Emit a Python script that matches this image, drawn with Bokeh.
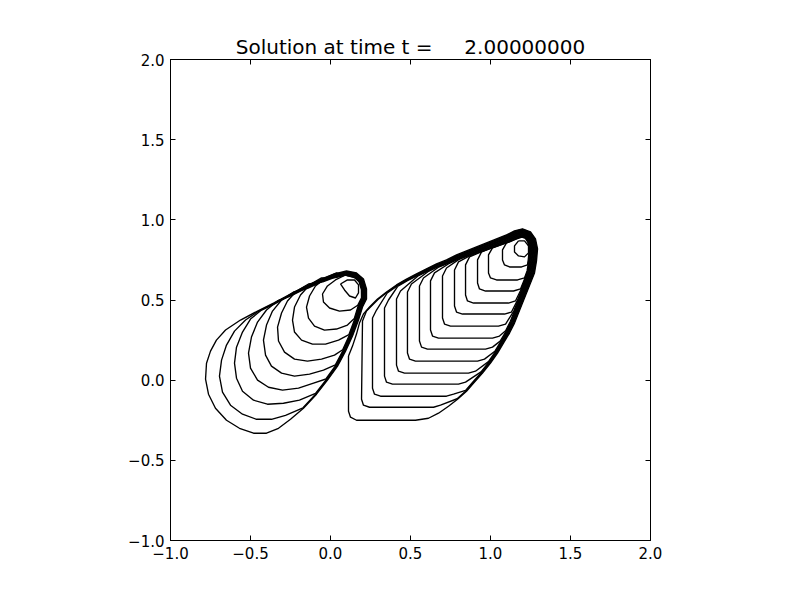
import numpy as np
from bokeh.plotting import figure
from bokeh.models import LinearAxis, Range1d, FixedTicker
from bokeh.embed import file_html
from bokeh.resources import INLINE

# ---------------- texts / ticks ----------------
title_text = "Solution at time t = \u00a0\u00a0\u00a0\u00a02.00000000"
tick_values = [-1.0, -0.5, 0.0, 0.5, 1.0, 1.5, 2.0]
tick_labels = ["\u22121.0", "\u22120.5", "0.0", "0.5", "1.0", "1.5", "2.0"]

# ---------------- left lobe: outer contour (clockwise) ----------------
left_rim_x = [-0.781, -0.775, -0.75, -0.713, -0.656, -0.5625, -0.456, -0.356, -0.25, -0.15,
              -0.056, 0.025, 0.1, 0.1625, 0.206, 0.225, 0.225, 0.2, 0.175, 0.1375,
              0.094, 0.044, -0.019, -0.0875, -0.169, -0.25, -0.325, -0.4, -0.481, -0.569,
              -0.65, -0.719, -0.7625]
left_rim_y = [0.006, 0.106, 0.181, 0.25, 0.3125, 0.375, 0.431, 0.481, 0.5375, 0.5875,
              0.631, 0.6625, 0.681, 0.669, 0.631, 0.569, 0.506, 0.456, 0.375, 0.275,
              0.181, 0.0875, 0.0, -0.0875, -0.175, -0.244, -0.3, -0.331, -0.331, -0.3,
              -0.25, -0.175, -0.0875]

# left lobe inner contours: own arc from the upper edge to the right band
L2_x = [-0.456, -0.531, -0.6, -0.65, -0.681, -0.694, -0.675, -0.625, -0.55, -0.4625, -0.369, -0.281, -0.169]
L2_y = [0.425, 0.375, 0.306, 0.219, 0.125, 0.025, -0.075, -0.156, -0.2125, -0.244, -0.244, -0.219, -0.175]
L3_x = [-0.356, -0.431, -0.5, -0.55, -0.5875, -0.6, -0.5875, -0.55, -0.481, -0.394, -0.294, -0.194, -0.0875]
L3_y = [0.481, 0.4375, 0.381, 0.3, 0.206, 0.106, 0.0125, -0.069, -0.125, -0.15, -0.144, -0.125, -0.0875]
L4_x = [-0.25, -0.331, -0.4, -0.456, -0.494, -0.5125, -0.5, -0.456, -0.3875, -0.3, -0.2, -0.106, -0.019]
L4_y = [0.5375, 0.494, 0.4375, 0.3625, 0.269, 0.169, 0.075, 0.0, -0.044, -0.0625, -0.05, -0.019, 0.0]
L5_x = [-0.15, -0.231, -0.306, -0.3625, -0.4, -0.419, -0.406, -0.369, -0.306, -0.225, -0.131, -0.044, 0.044]
L5_y = [0.5875, 0.55, 0.5, 0.431, 0.344, 0.25, 0.156, 0.0875, 0.044, 0.025, 0.0375, 0.0625, 0.0875]
L6_x = [-0.056, -0.1375, -0.2125, -0.269, -0.306, -0.331, -0.325, -0.2875, -0.225, -0.144, -0.056, 0.025, 0.094]
L6_y = [0.631, 0.6, 0.556, 0.494, 0.419, 0.331, 0.244, 0.175, 0.131, 0.119, 0.131, 0.156, 0.181]
L7_x = [0.025, -0.056, -0.131, -0.1875, -0.225, -0.2375, -0.225, -0.181, -0.1125, -0.031, 0.05, 0.1375]
L7_y = [0.6625, 0.6375, 0.594, 0.531, 0.456, 0.375, 0.3, 0.25, 0.225, 0.225, 0.25, 0.275]
L8_x = [0.1, 0.0375, -0.031, -0.094, -0.131, -0.15, -0.1375, -0.1, -0.0375, 0.0375, 0.106, 0.175]
L8_y = [0.681, 0.669, 0.6375, 0.5875, 0.525, 0.456, 0.3875, 0.3375, 0.3125, 0.319, 0.344, 0.375]
L9_x = [0.1625, 0.094, 0.031, -0.019, -0.05, -0.044, -0.006, 0.056, 0.125, 0.2]
L9_y = [0.669, 0.656, 0.625, 0.5875, 0.5375, 0.4875, 0.45, 0.431, 0.4375, 0.456]
# innermost closed loop at the tip of the left lobe
L10_x = [0.0625, 0.106, 0.15, 0.175, 0.175, 0.156, 0.119, 0.0875]
L10_y = [0.6, 0.625, 0.625, 0.594, 0.544, 0.5125, 0.525, 0.5625]

# ---------------- right lobe: outer contour (clockwise) ----------------
right_rim_x = [0.1125, 0.1375, 0.1625, 0.181, 0.206, 0.244, 0.294, 0.35, 0.4125, 0.475,
               0.5375, 0.6, 0.6625, 0.725, 0.7875, 0.85, 0.9125, 0.975, 1.0375, 1.1,
               1.15, 1.2, 1.25, 1.281, 1.294, 1.2875, 1.275, 1.25, 1.225, 1.2,
               1.175, 1.15, 1.119, 1.081, 1.044, 1.0, 0.95, 0.9, 0.85, 0.794,
               0.7375, 0.675, 0.6125, 0.531, 0.1625, 0.125, 0.1125]
right_rim_y = [0.15, 0.2125, 0.2875, 0.356, 0.4125, 0.456, 0.506, 0.55, 0.594, 0.631,
               0.6625, 0.694, 0.725, 0.75, 0.781, 0.806, 0.831, 0.856, 0.881, 0.906,
               0.931, 0.944, 0.925, 0.881, 0.819, 0.744, 0.669, 0.606, 0.544, 0.481,
               0.419, 0.356, 0.294, 0.231, 0.169, 0.106, 0.044, -0.0125, -0.069, -0.119,
               -0.1625, -0.206, -0.2375, -0.25, -0.25, -0.231, -0.194]

# right lobe inner contours: upper band -> vertical side -> bottom -> right band
R2_x = [0.294, 0.225, 0.2, 0.194, 0.206, 0.244, 0.644, 0.6875, 0.794]
R2_y = [0.506, 0.431, 0.369, -0.119, -0.156, -0.169, -0.169, -0.156, -0.119]
R3_x = [0.356, 0.2875, 0.2625, 0.2625, 0.275, 0.3125, 0.725, 0.769, 0.869]
R3_y = [0.556, 0.4375, 0.3875, -0.05, -0.0875, -0.1, -0.1, -0.0875, -0.05]
R4_x = [0.431, 0.3625, 0.3375, 0.3375, 0.35, 0.3875, 0.8, 0.844, 0.931]
R4_y = [0.606, 0.5, 0.45, 0.025, -0.0125, -0.025, -0.025, -0.0125, 0.025]
R5_x = [0.506, 0.4375, 0.4125, 0.4125, 0.425, 0.4625, 0.8625, 0.906, 0.9875]
R5_y = [0.65, 0.556, 0.506, 0.094, 0.056, 0.044, 0.044, 0.056, 0.094]
R6_x = [0.575, 0.506, 0.481, 0.481, 0.494, 0.531, 0.919, 0.9625, 1.044]
R6_y = [0.681, 0.6, 0.55, 0.169, 0.131, 0.119, 0.119, 0.131, 0.169]
R7_x = [0.65, 0.581, 0.556, 0.556, 0.569, 0.606, 0.969, 1.0125, 1.0875]
R7_y = [0.719, 0.6375, 0.5875, 0.244, 0.206, 0.194, 0.194, 0.206, 0.244]
R8_x = [0.719, 0.65, 0.625, 0.625, 0.6375, 0.675, 1.0125, 1.056, 1.125]
R8_y = [0.75, 0.669, 0.619, 0.3125, 0.275, 0.2625, 0.2625, 0.275, 0.3125]
R9_x = [0.794, 0.725, 0.7, 0.7, 0.7125, 0.75, 1.05, 1.094, 1.1625]
R9_y = [0.781, 0.7, 0.65, 0.3875, 0.35, 0.3375, 0.3375, 0.35, 0.3875]
R10_x = [0.869, 0.8, 0.775, 0.775, 0.7875, 0.825, 1.0875, 1.131, 1.194]
R10_y = [0.8125, 0.7375, 0.6875, 0.4625, 0.425, 0.4125, 0.4125, 0.425, 0.4625]
R11_x = [0.9375, 0.869, 0.844, 0.844, 0.856, 0.894, 1.1125, 1.156, 1.219]
R11_y = [0.844, 0.769, 0.719, 0.531, 0.494, 0.481, 0.481, 0.494, 0.531]
R12_x = [1.0125, 0.944, 0.919, 0.919, 0.931, 0.969, 1.144, 1.1875, 1.25]
R12_y = [0.869, 0.8, 0.75, 0.606, 0.569, 0.556, 0.556, 0.569, 0.606]
R13_x = [1.081, 1.0125, 0.9875, 0.9875, 1.0, 1.0375, 1.169, 1.2125, 1.275]
R13_y = [0.9, 0.825, 0.781, 0.669, 0.6375, 0.625, 0.625, 0.6375, 0.675]
R14_x = [1.156, 1.1, 1.075, 1.075, 1.0875, 1.119, 1.194, 1.231, 1.2875]
R14_y = [0.925, 0.856, 0.8125, 0.75, 0.719, 0.706, 0.706, 0.719, 0.756]
# innermost closed loop at the tip of the right lobe
R15_x = [1.175, 1.15, 1.15, 1.175, 1.2125, 1.2375, 1.2375, 1.2125]
R15_y = [0.869, 0.8375, 0.8, 0.775, 0.769, 0.794, 0.8375, 0.869]

BAND_STEP = 0.004  # spacing of nearly coincident contours along the shared edges


def offset_rim(rx, ry, d):
    x = np.asarray(rx, float)
    y = np.asarray(ry, float)
    tx = np.roll(x, -1) - np.roll(x, 1)
    ty = np.roll(y, -1) - np.roll(y, 1)
    ln = np.hypot(tx, ty)
    return x + d * ty / ln, y - d * tx / ln


def nearest(rx, ry, px, py):
    rx = np.asarray(rx)
    ry = np.asarray(ry)
    return int(np.argmin((rx - px) ** 2 + (ry - py) ** 2))


def inner_contour(rx, ry, ax, ay, k):
    ox, oy = offset_rim(rx, ry, k * BAND_STEP)
    i0 = nearest(rx, ry, ax[0], ay[0])
    i1 = nearest(rx, ry, ax[-1], ay[-1])
    xs = list(ox[i0:i1 + 1]) + list(ax[-2:0:-1]) + [ox[i0]]
    ys = list(oy[i0:i1 + 1]) + list(ay[-2:0:-1]) + [oy[i0]]
    return xs, ys


xs_all, ys_all = [], []
xs_all.append(left_rim_x + [left_rim_x[0]])
ys_all.append(left_rim_y + [left_rim_y[0]])
for k, (ax, ay) in enumerate([(L2_x, L2_y), (L3_x, L3_y), (L4_x, L4_y), (L5_x, L5_y),
                              (L6_x, L6_y), (L7_x, L7_y), (L8_x, L8_y), (L9_x, L9_y)], start=1):
    cx, cy = inner_contour(left_rim_x, left_rim_y, ax, ay, k)
    xs_all.append(cx)
    ys_all.append(cy)
xs_all.append(L10_x + [L10_x[0]])
ys_all.append(L10_y + [L10_y[0]])

xs_all.append(right_rim_x + [right_rim_x[0]])
ys_all.append(right_rim_y + [right_rim_y[0]])
for k, (ax, ay) in enumerate([(R2_x, R2_y), (R3_x, R3_y), (R4_x, R4_y), (R5_x, R5_y),
                              (R6_x, R6_y), (R7_x, R7_y), (R8_x, R8_y), (R9_x, R9_y),
                              (R10_x, R10_y), (R11_x, R11_y), (R12_x, R12_y), (R13_x, R13_y),
                              (R14_x, R14_y)], start=1):
    cx, cy = inner_contour(right_rim_x, right_rim_y, ax, ay, k)
    xs_all.append(cx)
    ys_all.append(cy)
xs_all.append(R15_x + [R15_x[0]])
ys_all.append(R15_y + [R15_y[0]])

# ---------------- figure ----------------
p = figure(width=784, height=584, x_range=Range1d(-1, 2), y_range=Range1d(-1, 2),
           output_backend="svg", toolbar_location=None,
           min_border_left=170, min_border_right=134, min_border_top=59, min_border_bottom=44)
p.grid.visible = False
p.outline_line_color = "black"
p.outline_line_width = 1
p.background_fill_color = "white"
p.border_fill_color = "white"

p.multi_line(xs=xs_all, ys=ys_all, line_color="black", line_width=1.35, line_join="round")

p.title.text = title_text
p.title.align = "center"
p.title.text_font = "DejaVu Sans"
p.title.text_font_size = "20px"
p.title.text_font_style = "normal"
p.title.text_color = "black"
p.title.standoff = 2

p.add_layout(LinearAxis(), "above")
p.add_layout(LinearAxis(), "right")

overrides = {v: s for v, s in zip(tick_values, tick_labels)}
for ax in p.axis:
    ax.ticker = FixedTicker(ticks=tick_values)
    ax.major_label_overrides = overrides
    ax.axis_line_color = "black"
    ax.major_tick_line_color = "black"
    ax.major_tick_in = 5
    ax.major_tick_out = 0
    ax.minor_tick_line_color = None
    ax.major_label_text_font = "DejaVu Sans"
    ax.major_label_text_font_size = "15px"
    ax.major_label_text_color = "black"
    ax.major_label_standoff = 6
for ax in p.above + p.right:
    if isinstance(ax, LinearAxis):
        ax.major_label_text_color = None
        ax.major_label_standoff = 0

open("out.html", "w").write(file_html(p, INLINE))
